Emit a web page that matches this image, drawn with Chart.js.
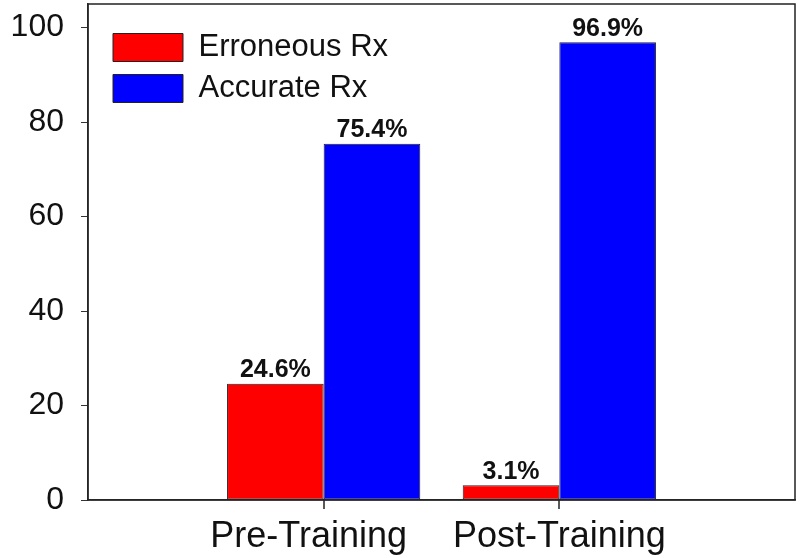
<!DOCTYPE html>
<html>
<head>
<meta charset="utf-8">
<script src="https://cdn.jsdelivr.net/npm/chart.js@4/dist/chart.umd.min.js"></script>
<style>
  html, body { margin: 0; padding: 0; background: #fff; }
  #wrap { width: 800px; height: 558px; }
</style>
</head>
<body>
<div id="wrap"><canvas id="rx-chart"></canvas></div>
<script>
"use strict";

// data -----------------------------------
// empty categories at both ends put the groups at 1/3 and 2/3 of the axis
// (trailing spaces: the first label sits a little left of its tick in the original)
const categories = ["", "Pre-Training   ", "Post-Training", ""];
const erroneousRx = [null, 24.6, 3.1, null];
const accurateRx = [null, 75.4, 96.9, null];
const yTicks = [0, 20, 40, 60, 80, 100];

Chart.defaults.font.family = "'Liberation Sans', Arial, sans-serif";
Chart.defaults.color = "#111";

// frame round the plot, x tick marks, legend inside top left
const frameAndLegend = {
  id: "frameAndLegend",
  afterLayout(chart) {
    chart.legend.left = chart.chartArea.left + 15;
    chart.legend.top = chart.chartArea.top + 18;
  },
  afterDraw(chart) {
    const { ctx, chartArea } = chart;
    const xScale = chart.scales.x;
    ctx.save();
    ctx.strokeStyle = "#222";
    ctx.lineWidth = 1.5;
    ctx.strokeRect(
      chartArea.left,
      chartArea.top,
      chartArea.right - chartArea.left,
      chartArea.bottom - chartArea.top
    );
    // tick marks only under the two real categories
    categories.forEach(function (c, i) {
      if (!c) return;
      const x = Math.round(xScale.getPixelForValue(i));
      ctx.beginPath();
      ctx.moveTo(x, chartArea.bottom);
      ctx.lineTo(x, chartArea.bottom + 9);
      ctx.stroke();
    });
    ctx.restore();
  },
};

// percent labels above the bars
const valueLabels = {
  id: "valueLabels",
  afterDatasetsDraw(chart) {
    const ctx = chart.ctx;
    ctx.save();
    ctx.font = "bold 25px 'Liberation Sans', Arial, sans-serif";
    ctx.fillStyle = "#111";
    ctx.textAlign = "center";
    ctx.textBaseline = "bottom";
    chart.data.datasets.forEach(function (ds, i) {
      chart.getDatasetMeta(i).data.forEach(function (bar, j) {
        const v = ds.data[j];
        if (v == null) return;
        ctx.fillText(v.toFixed(1) + "%", bar.x, bar.y - 1);
      });
    });
    ctx.restore();
  },
};

function noPadding(scale) {
  scale.paddingTop = 0;
  scale.paddingBottom = 0;
  scale.paddingLeft = 0;
  scale.paddingRight = 0;
}

const ctx = document.getElementById("rx-chart");

new Chart(ctx, {
  type: "bar",
  data: {
    labels: categories,
    datasets: [
      {
        label: "Erroneous Rx",
        data: erroneousRx,
        backgroundColor: "#ff0000",
        borderColor: "#222",
        borderWidth: 1,
        borderSkipped: false,
      },
      {
        label: "Accurate Rx",
        data: accurateRx,
        backgroundColor: "#0000ff",
        borderColor: "#222",
        borderWidth: 1,
        borderSkipped: false,
      },
    ],
  },
  options: {
    responsive: true,
    maintainAspectRatio: false,
    animation: false,
    categoryPercentage: 0.82,
    barPercentage: 1,
    layout: {
      padding: { top: 4, right: 5, left: 0, bottom: 0 },
    },
    scales: {
      x: {
        offset: false,
        grid: {
          offset: false,
          drawOnChartArea: false,
          tickLength: 9,
          color: "rgba(0,0,0,0)",
        },
        border: { display: true, color: "#333", width: 1.5 },
        ticks: {
          font: { size: 36 },
          color: "#111",
          padding: 6,
          maxRotation: 0,
          autoSkip: false,
        },
        afterFit: function (scale) {
          noPadding(scale);
          scale.height = 58;
        },
      },
      y: {
        min: 0,
        max: 105,
        grid: {
          drawOnChartArea: false,
          tickLength: 7,
          color: "#333",
        },
        border: { display: true, color: "#333", width: 1.5 },
        afterBuildTicks: function (scale) {
          scale.ticks = yTicks.map(function (v) {
            return { value: v };
          });
        },
        ticks: {
          font: { size: 32 },
          color: "#111",
          padding: 17,
        },
        afterFit: function (scale) {
          noPadding(scale);
          scale.width = 88;
        },
      },
    },
    plugins: {
      legend: {
        position: "chartArea",
        align: "start",
        labels: {
          boxWidth: 70,
          boxHeight: 28,
          padding: 10,
          color: "#111",
          font: { size: 31 },
        },
      },
      tooltip: { enabled: false },
    },
  },
  plugins: [frameAndLegend, valueLabels],
});
</script>
</body>
</html>
